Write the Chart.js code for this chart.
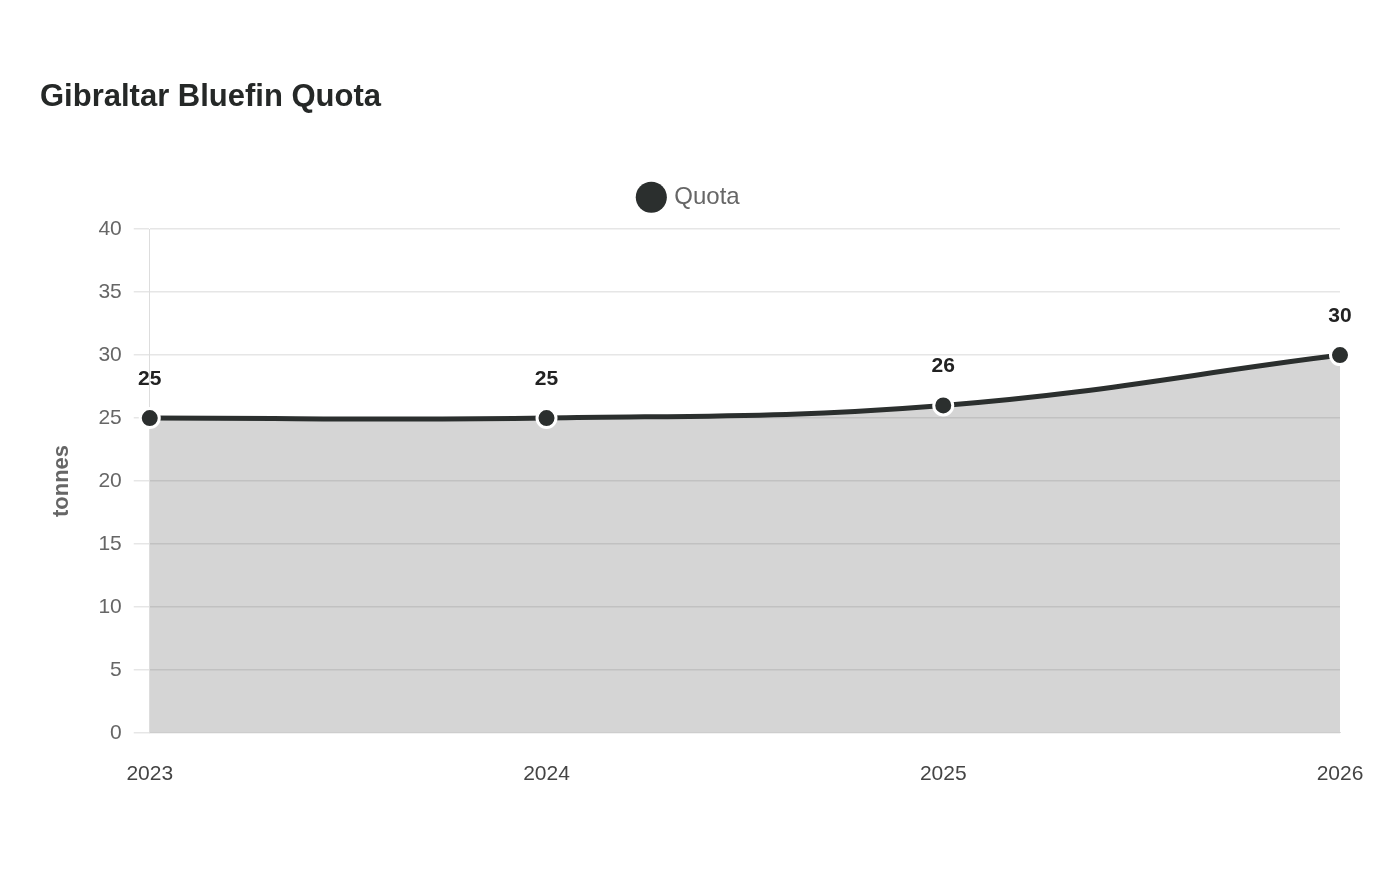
<!DOCTYPE html>
<html><head><meta charset="utf-8">
<script src="https://cdn.jsdelivr.net/npm/chart.js@4"></script>
<style>html,body{margin:0;padding:0;background:#fff}#wrap{width:1400px;height:880px}</style>
</head><body><div id="wrap"><canvas id="c" width="1400" height="880"></canvas></div>
<script>
const years = ['2023', '2024', '2025', '2026'];
const quota = [25, 25, 26, 30];
const yTicks = [0, 5, 10, 15, 20, 25, 30, 35, 40];
const seriesName = 'Quota';
const chartTitle = 'Gibraltar Bluefin Quota';
const yTitle = 'tonnes';

const FONT = '"Liberation Sans", Arial, Helvetica, sans-serif';
const dark = '#2b2f2e';

const valueLabels = {
  id: 'valueLabels',
  afterDatasetsDraw(chart) {
    const ctx = chart.ctx;
    const meta = chart.getDatasetMeta(0);
    ctx.save();
    ctx.font = 'bold 21px ' + FONT;
    ctx.fillStyle = '#222';
    ctx.textAlign = 'center';
    ctx.textBaseline = 'middle';
    meta.data.forEach((pt, i) => {
      ctx.fillText(String(chart.data.datasets[0].data[i]), pt.x, pt.y - 39);
    });
    ctx.restore();
  }
};

const legendSpacer = {
  id: 'legendSpacer',
  beforeInit(chart) {
    if (!chart.legend) return;
    const orig = chart.legend.fit;
    chart.legend.fit = function () { orig.call(this); this.height += 10; };
  }
};

new Chart(document.getElementById('c'), {
  type: 'line',
  data: {
    labels: years,
    datasets: [{
      label: seriesName,
      data: quota,
      borderColor: dark,
      backgroundColor: 'rgba(43,47,46,0.2)',
      fill: 'origin',
      borderWidth: 5,
      tension: 0.4,
      pointRadius: 9.5,
      pointBackgroundColor: dark,
      pointBorderColor: '#fff',
      pointBorderWidth: 3,
      pointHoverRadius: 9.5
    }]
  },
  options: {
    responsive: false,
    animation: false,
    layout: { padding: { left: 40, right: 60, top: 79, bottom: 72 } },
    plugins: {
      title: {
        display: true, text: chartTitle, align: 'start', color: '#252827',
        font: { family: FONT, size: 31, weight: 'bold' },
        padding: { top: 0, bottom: 43 }
      },
      legend: {
        display: true,
        labels: {
          usePointStyle: true, pointStyle: 'circle', boxWidth: 22, boxHeight: 22,
          color: '#666', font: { family: FONT, size: 24 }, padding: 26,
          generateLabels(chart) {
            return [{ text: seriesName, fillStyle: dark, strokeStyle: dark, fontColor: '#666', lineWidth: 0, pointStyle: 'circle', datasetIndex: 0 }];
          }
        }
      },
      tooltip: { enabled: false }
    },
    scales: {
      x: {
        grid: { display: false },
        border: { display: true, color: '#ddd' },
        ticks: { color: '#444', font: { family: FONT, size: 21 }, padding: 21, maxRotation: 0 }
      },
      y: {
        min: 0, max: 40,
        afterBuildTicks(scale) { scale.ticks = yTicks.map(v => ({ value: v })); },
        grid: { color: '#e6e6e6', lineWidth: 1.5, tickLength: 16 },
        border: { display: true, color: '#ddd' },
        ticks: { color: '#666', font: { family: FONT, size: 21 }, padding: 12 },
        title: { display: true, text: yTitle, color: '#666', font: { family: FONT, size: 22, weight: 'bold' }, padding: { top: 9, bottom: 11 } }
      }
    }
  },
  plugins: [valueLabels, legendSpacer]
});
</script>
</body></html>
